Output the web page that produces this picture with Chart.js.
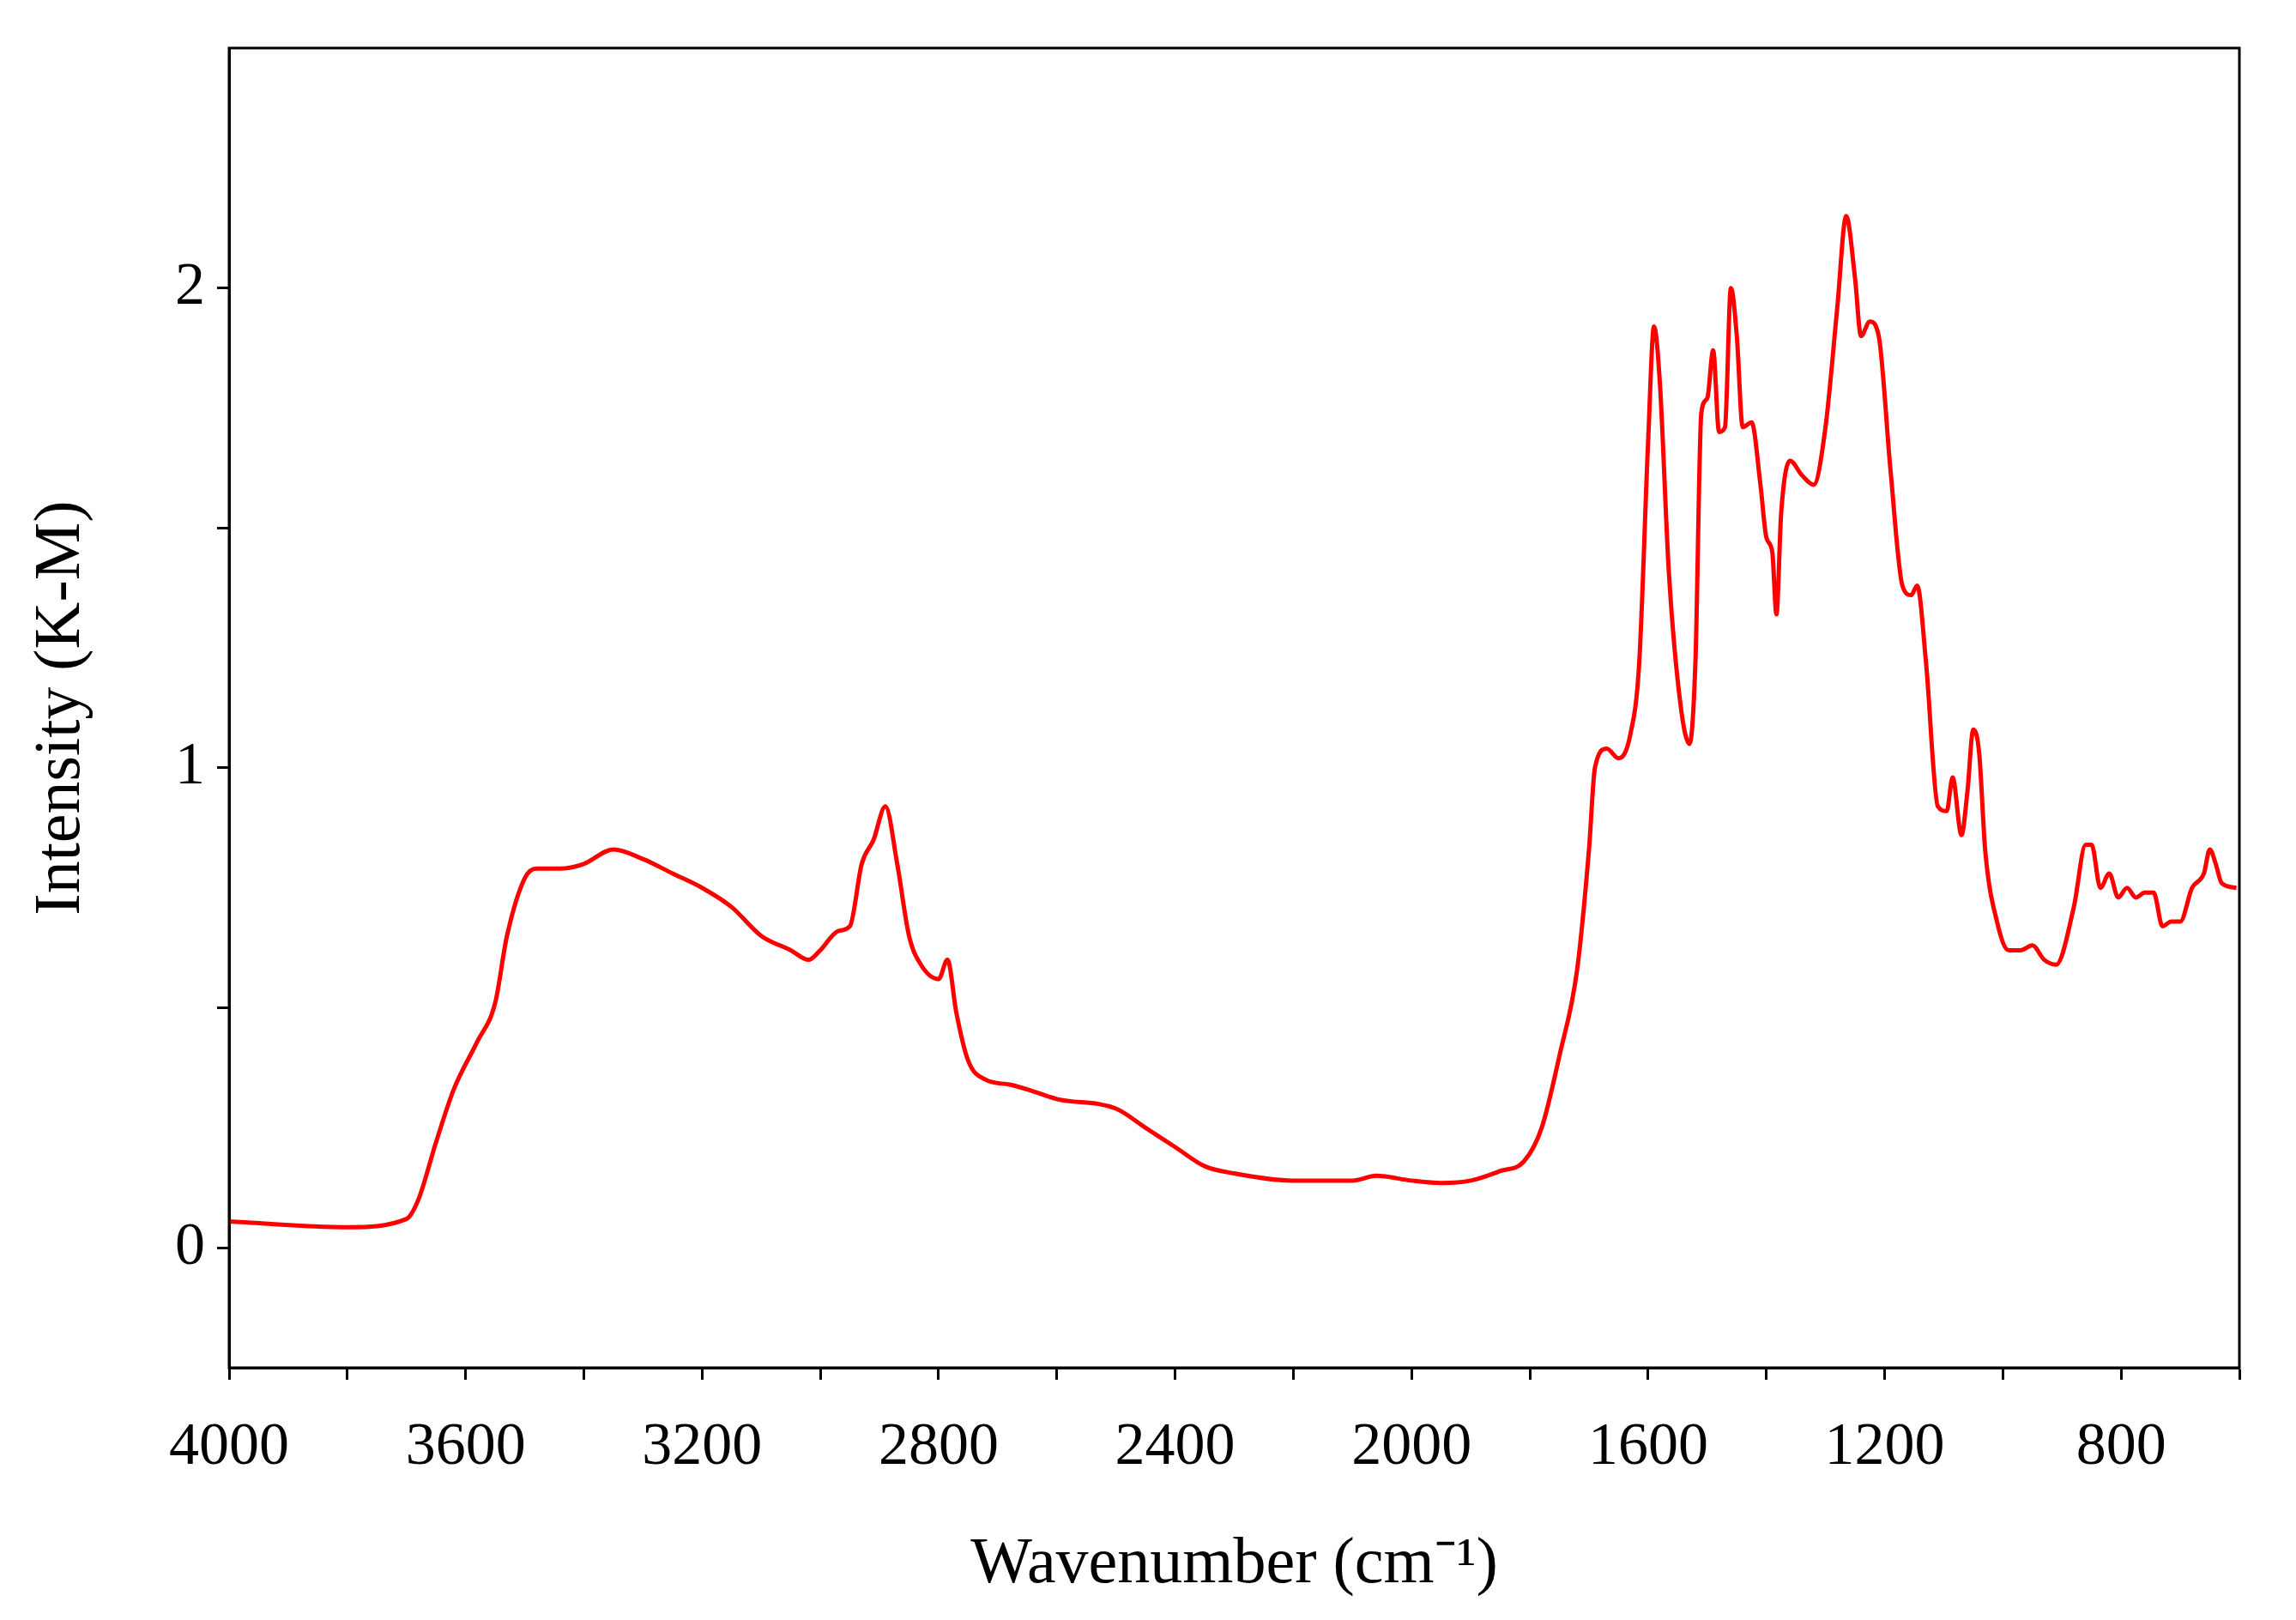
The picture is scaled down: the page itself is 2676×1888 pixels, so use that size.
<!DOCTYPE html>
<html><head><meta charset="utf-8">
<script src="https://cdn.jsdelivr.net/npm/chart.js@4/dist/chart.umd.min.js"></script>
<style>html,body{margin:0;background:#fff}#w{width:2676px;height:1888px}</style>
</head><body><div id="w"><canvas id="c"></canvas></div>
<script>
const wavenumbers=[4000,3800,3700,3680,3650,3620,3580,3550,3530,3500,3480,3440,3400,3350,3300,3250,3200,3150,3100,3050,3020,3000,2970,2950,2930,2910,2890,2870,2850,2830,2800,2785,2770,2750,2720,2680,2650,2600,2500,2450,2400,2350,2300,2200,2100,2060,2000,1950,1900,1850,1810,1780,1750,1720,1700,1690,1670,1650,1630,1615,1600,1590,1580,1565,1545,1530,1520,1510,1500,1490,1480,1470,1460,1450,1440,1425,1410,1400,1390,1383,1375,1360,1340,1320,1300,1280,1265,1250,1240,1225,1210,1190,1170,1155,1145,1130,1110,1095,1085,1070,1060,1050,1040,1030,1010,990,970,950,930,910,880,860,850,835,820,805,790,775,760,745,730,715,700,680,660,650,640,630,605];
const intensity=[0.055,0.043,0.06,0.10,0.22,0.33,0.43,0.51,0.65,0.77,0.79,0.79,0.80,0.83,0.81,0.78,0.75,0.71,0.65,0.62,0.60,0.62,0.66,0.67,0.80,0.85,0.92,0.80,0.65,0.59,0.56,0.60,0.49,0.39,0.35,0.34,0.33,0.31,0.29,0.25,0.21,0.17,0.155,0.14,0.14,0.15,0.14,0.135,0.14,0.16,0.18,0.25,0.40,0.58,0.83,1.00,1.04,1.02,1.07,1.22,1.68,1.92,1.80,1.41,1.13,1.05,1.22,1.74,1.77,1.87,1.70,1.71,2.00,1.90,1.71,1.72,1.59,1.48,1.45,1.32,1.53,1.64,1.61,1.59,1.71,1.96,2.15,2.02,1.90,1.93,1.90,1.62,1.38,1.36,1.38,1.22,0.92,0.91,0.98,0.86,0.95,1.08,1.03,0.83,0.68,0.62,0.62,0.63,0.60,0.59,0.71,0.84,0.84,0.75,0.78,0.73,0.75,0.73,0.74,0.74,0.67,0.68,0.68,0.75,0.78,0.83,0.80,0.76,0.75];
const xTickValues=[4000,3800,3600,3400,3200,3000,2800,2600,2400,2200,2000,1800,1600,1400,1200,1000,800,600];
const yTickValues=[0,0.5,1,1.5,2];
const font='"Liberation Serif", "Times New Roman", serif';
const frame={id:'frame',afterDraw(c){const a=c.chartArea,x=c.ctx;x.save();x.strokeStyle='#000';x.lineWidth=3;x.strokeRect(a.left,a.top,a.right-a.left,a.bottom-a.top);x.restore();}};
new Chart(document.getElementById('c'),{type:'line',
data:{datasets:[{data:wavenumbers.map((w,i)=>({x:w,y:intensity[i]})),borderColor:'#ff0000',borderWidth:5,pointRadius:0,tension:0.35,cubicInterpolationMode:'monotone'}]},
options:{responsive:true,maintainAspectRatio:false,animation:false,
layout:{padding:{top:55,right:66,left:0,bottom:0}},
plugins:{legend:{display:false},tooltip:{enabled:false}},
scales:{
x:{type:'linear',reverse:true,min:600,max:4000,
afterBuildTicks(s){s.ticks=xTickValues.map(v=>({value:v}));},
afterFit(s){s.height=294;},
ticks:{autoSkip:false,maxRotation:0,color:'#000',font:{family:font,size:70},padding:38,callback:v=>(v%400===0?v:'')},
grid:{drawOnChartArea:false,drawTicks:true,tickLength:14,tickWidth:3,color:'#000'},
border:{color:'#000',width:3},
title:{display:true,text:'Wavenumber (cm⁻¹)',color:'#000',font:{family:font,size:76},padding:{top:0,bottom:18}}},
y:{min:-0.25,max:2.5,
afterBuildTicks(s){s.ticks=yTickValues.map(v=>({value:v}));},
afterFit(s){s.width=267;},
ticks:{autoSkip:false,color:'#000',font:{family:font,size:70},padding:14,callback:v=>(Number.isInteger(v)?v:'')},
grid:{drawOnChartArea:false,drawTicks:true,tickLength:14,tickWidth:3,color:'#000'},
border:{color:'#000',width:3},
title:{display:true,text:'Intensity (K-M)',color:'#000',font:{family:font,size:76},padding:{top:26,bottom:0}}}
}},plugins:[frame]});
</script></body></html>
